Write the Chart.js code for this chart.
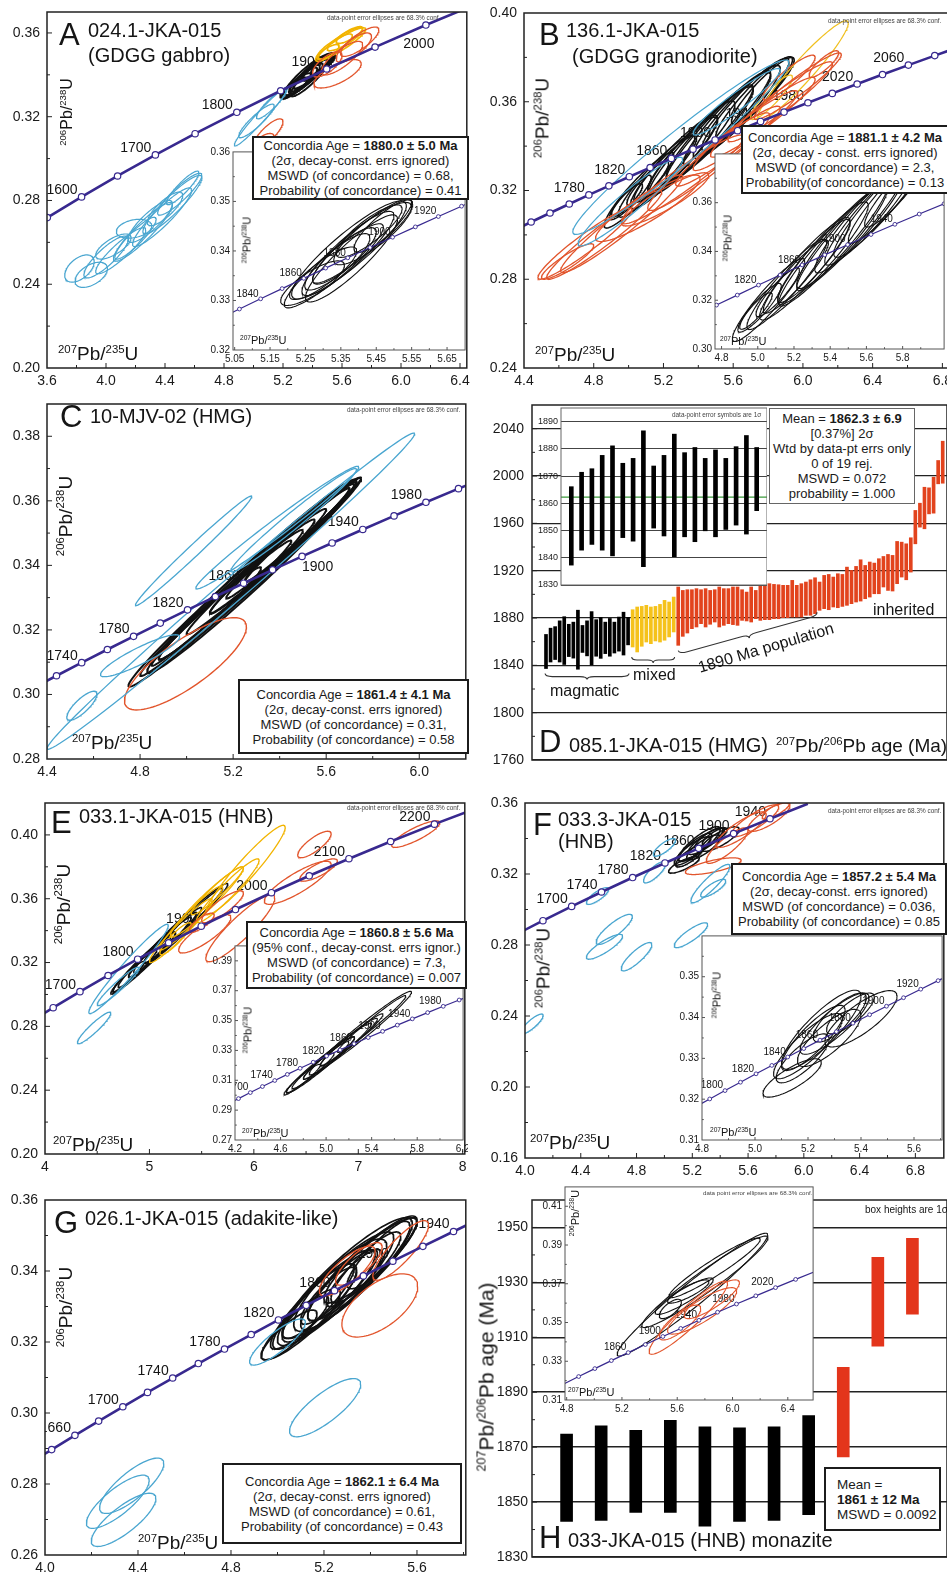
<!DOCTYPE html>
<html><head><meta charset="utf-8">
<script src="https://cdn.jsdelivr.net/npm/chart.js@4.4.1/dist/chart.umd.min.js"></script>
<style>
html,body{margin:0;padding:0;background:#fff}
body{position:relative;width:947px;height:1573px;overflow:hidden;font-family:"Liberation Sans",Arial,Helvetica,sans-serif;color:#151515}
canvas{position:absolute}
.t{position:absolute;white-space:nowrap;line-height:1;z-index:6;color:#151515}
.sp{font-size:.6em;vertical-align:.62em;line-height:0}
.bx{position:absolute;z-index:6;background:#fff;border:2px solid #1c1c1c;box-sizing:border-box;display:flex;flex-direction:column;justify-content:center;align-items:center;white-space:nowrap;font-size:13px;line-height:15px;color:#1a1a1a}
</style></head><body>
<script>
Chart.defaults.font.family='"Liberation Sans", Arial, Helvetica, sans-serif';
Chart.defaults.color='#1a1a1a';

// ================= DATA =================
// ellipses: [x, halfwidth x, y, halfheight y, rho]
// ---- Panel A
const aXTicks=[3.6,4.0,4.4,4.8,5.2,5.6,6.0,6.4];
const aYTicks=[0.20,0.24,0.28,0.32,0.36];
const aMarks=[1550,1600,1650,1700,1750,1800,1850,1900,1950,2000];
const aLabels=[1600,1700,1800,1900,2000];
const aBlue=[[3.82,0.10,0.2475,0.0065,0.5],[3.90,0.11,0.2445,0.0060,0.5],[4.00,0.15,0.2530,0.0100,0.85],[4.10,0.17,0.2560,0.0110,0.9],[4.20,0.14,0.2620,0.0100,0.9],[4.25,0.20,0.2650,0.0140,0.92],[4.30,0.15,0.2700,0.0100,0.85],[4.38,0.20,0.2720,0.0140,0.92],[4.45,0.20,0.2780,0.0140,0.92],[4.40,0.12,0.2760,0.0080,0.8],[4.50,0.15,0.2830,0.0100,0.9],[4.19,0.12,0.2665,0.0045,0.3],[4.05,0.12,0.2580,0.0060,0.7],[4.52,0.11,0.2860,0.0080,0.9],[5.05,0.18,0.3200,0.0140,0.97],[5.02,0.12,0.3180,0.0080,0.9],[5.12,0.10,0.3260,0.0070,0.9]];
const aRed=[[5.10,0.10,0.3120,0.0070,0.8],[5.07,0.07,0.3080,0.0040,0.6],[5.72,0.13,0.3558,0.0070,0.8],[5.57,0.16,0.3405,0.0068,0.7],[5.60,0.14,0.3480,0.0080,0.8],[5.50,0.10,0.3450,0.0060,0.7],[5.68,0.12,0.3530,0.0070,0.75]];
const aYellow=[[5.60,0.16,0.3550,0.0075,0.9],[5.55,0.12,0.3535,0.0060,0.85],[5.62,0.12,0.3570,0.0055,0.85],[5.50,0.08,0.3505,0.0040,0.8],[5.65,0.09,0.3590,0.0040,0.8]];
const aBlack=[[5.373,0.162,0.3402,0.0099,0.9],[5.37,0.13,0.3395,0.0085,0.9],[5.38,0.13,0.3385,0.0088,0.9],[5.36,0.09,0.3390,0.0057,0.85],[5.44,0.11,0.3435,0.0063,0.85],[5.27,0.09,0.3335,0.0045,0.8],[5.30,0.095,0.3355,0.0053,0.85],[5.43,0.093,0.3440,0.0053,0.85],[5.34,0.092,0.3378,0.0057,0.85],[5.47,0.083,0.3450,0.0053,0.85],[5.33,0.14,0.3370,0.0085,0.92],[5.41,0.14,0.3420,0.0085,0.92]];
const aInXTicks=[5.05,5.15,5.25,5.35,5.45,5.55,5.65];
const aInYTicks=[0.32,0.33,0.34,0.35,0.36];
const aInMarks=[1820,1830,1840,1850,1860,1870,1880,1890,1900,1910,1920,1930,1940];
const aInLabels=[1840,1860,1880,1900,1920];
// ---- Panel B
const bXTicks=[4.4,4.8,5.2,5.6,6.0,6.4,6.8];
const bYTicks=[0.24,0.28,0.32,0.36,0.40];
const bMarks=[1720,1740,1760,1780,1800,1820,1840,1860,1880,1900,1920,1940,1960,1980,2000,2020,2040,2060,2080];
const bLabels=[1780,1820,1860,1900,1940,1980,2020,2060];
const bBlue=[[5.30,0.62,0.3395,0.0393,0.97],[5.01,0.30,0.3150,0.0200,0.95],[5.62,0.25,0.3600,0.0150,0.95]];
const bRed=[[4.75,0.27,0.296,0.016,0.95],[4.86,0.33,0.300,0.020,0.96],[4.96,0.35,0.305,0.022,0.96],[4.65,0.15,0.288,0.008,0.9],[5.11,0.30,0.312,0.015,0.9],[5.21,0.25,0.316,0.012,0.9],[5.31,0.35,0.325,0.020,0.95],[5.46,0.35,0.333,0.022,0.95],[5.57,0.30,0.340,0.018,0.95],[5.67,0.30,0.347,0.018,0.95],[5.77,0.30,0.353,0.018,0.95],[5.87,0.30,0.360,0.018,0.95],[5.97,0.25,0.367,0.015,0.95],[5.92,0.15,0.371,0.010,0.9],[6.12,0.085,0.377,0.006,0.85]];
const bYellow=[[6.00,0.26,0.374,0.0225,0.95],[5.82,0.12,0.362,0.010,0.9]];
const bBlack=[[4.99,0.09,0.3156,0.0075,0.88],[5.01,0.12,0.3169,0.0100,0.9],[5.06,0.20,0.3201,0.0170,0.93],[5.11,0.12,0.3233,0.0100,0.9],[5.16,0.22,0.3265,0.0185,0.93],[5.21,0.18,0.3297,0.0150,0.92],[5.26,0.25,0.3329,0.0210,0.93],[5.31,0.20,0.3361,0.0170,0.92],[5.36,0.25,0.3393,0.0210,0.93],[5.415,0.30,0.3426,0.0250,0.95],[5.465,0.25,0.3458,0.0210,0.93],[5.515,0.30,0.3490,0.0250,0.95],[5.565,0.25,0.3522,0.0210,0.93],[5.62,0.25,0.3554,0.0210,0.93],[5.67,0.25,0.3586,0.0210,0.93],[5.72,0.22,0.3618,0.0185,0.93],[5.77,0.18,0.3650,0.0150,0.92]];
const bInXTicks=[4.8,5.0,5.2,5.4,5.6,5.8];
const bInYTicks=[0.30,0.32,0.34,0.36];
const bInMarks=[1760,1780,1800,1820,1840,1860,1880,1900,1920,1940,1960,1980,2000];
const bInLabels=[1820,1860,1900,1940];
// ---- Panel C
const cXTicks=[4.4,4.8,5.2,5.6,6.0];
const cYTicks=[0.28,0.30,0.32,0.34,0.36,0.38];
const cMarks=[1720,1740,1760,1780,1800,1820,1840,1860,1880,1900,1920,1940,1960,1980,2000];
const cLabels=[1740,1780,1820,1860,1900,1940,1980];
const cBlue=[[5.19,0.79,0.332,0.049,0.995],[4.55,0.065,0.2965,0.0045,0.8],[5.03,0.25,0.3445,0.017,0.99],[4.80,0.17,0.312,0.0065,0.9],[5.39,0.35,0.3517,0.019,0.985],[5.46,0.27,0.354,0.016,0.98]];
const cBlack=[[5.25,0.50,0.3348,0.0324,0.99],[5.20,0.40,0.3316,0.0259,0.99],[5.30,0.42,0.3380,0.0272,0.99],[5.35,0.35,0.3413,0.0227,0.99],[5.40,0.30,0.3445,0.0194,0.99],[5.45,0.28,0.3478,0.0181,0.99],[5.15,0.30,0.3283,0.0194,0.99],[5.30,0.20,0.3380,0.0130,0.98],[5.10,0.22,0.3251,0.0143,0.98],[5.50,0.25,0.3510,0.0162,0.99],[5.40,0.15,0.3445,0.0097,0.97],[5.28,0.45,0.3366,0.0300,0.985]];
const cRed=[[4.995,0.262,0.3095,0.0143,0.8]];
// ---- Panel D  (207Pb/206Pb ages, [low, high])
const dYTicks=[1760,1800,1840,1880,1920,1960,2000,2040];
const dInYTicks=[1830,1840,1850,1860,1870,1880,1890];
const dMean=1862.3;
const dBlack=[[1837.3,1866.1],[1842.8,1871.4],[1844.9,1872.7],[1842.8,1877.6],[1840.7,1881.1],[1847.4,1874.7],[1846.1,1876.5],[1836.7,1886.6],[1850.9,1873.7],[1848.0,1877.6],[1840.4,1885.4],[1847.7,1878.6],[1845.9,1880.5],[1849.9,1876.5],[1847.7,1879.6],[1850.4,1876.5],[1852.0,1880.8],[1848.7,1884.9],[1857.3,1880.5]];
const dYellow=[[1855.5,1887.0],[1851.3,1889.3],[1856.1,1889.8],[1859.7,1890.7],[1858.3,1889.3],[1860.6,1889.8],[1859.7,1891.5],[1861.2,1894.9],[1864.0,1893.5],[1868.2,1897.7]];
const dRed=[[1856.9,1906.2],[1864.5,1903.3],[1867.3,1903.9],[1871.0,1903.9],[1872.4,1904.8],[1875.2,1903.9],[1872.4,1904.8],[1874.7,1903.3],[1876.6,1903.9],[1872.4,1906.2],[1873.8,1904.8],[1875.2,1904.8],[1874.4,1906.2],
[1873.8,1906.2],[1878.0,1903.9],[1877.5,1901.9],[1876.6,1906.2],[1879.4,1903.3],[1878.0,1907.6],[1878.6,1908.4],[1878.6,1909.0],[1879.4,1908.4],[1879.4,1908.1],
[1880.3,1907.6],[1880.3,1907.6],[1880.8,1911.8],[1880.8,1907.6],[1880.8,1909.0],[1882.3,1910.4],[1882.3,1912.3],[1883.7,1914.0],[1886.5,1910.4],[1887.9,1916.0],
[1887.0,1916.8],[1889.3,1914.6],[1888.7,1917.4],[1889.8,1916.8],[1890.7,1923.0],[1892.1,1920.2],[1893.5,1923.6],[1894.3,1929.2],[1896.3,1924.4],[1897.7,1927.3],
[1900.5,1926.4],[1900.5,1930.1],[1906.2,1932.0],[1903.3,1933.7],[1902.8,1932.9],[1909.0,1944.7],[1914.6,1944.1],[1912.3,1942.7],[1918.8,1947.8],[1942.7,1970.9],
[1956.8,1977.0],[1955.4,1990.5],[1968.0,1990.0],[1968.6,1999.0],[1993.4,2013.1],[1993.9,2029.4]];
// ---- Panel E
const eXTicks=[4,5,6,7,8];
const eYTicks=[0.20,0.24,0.28,0.32,0.36,0.40];
const eMarks=[1650,1700,1750,1800,1850,1900,1950,2000,2050,2100,2150,2200];
const eLabels=[1700,1800,1900,2000,2100,2200];
const eBlue=[[4.80,0.38,0.316,0.028,0.97],[4.47,0.16,0.279,0.0099,0.93],[4.70,0.20,0.305,0.012,0.95]];
const eYellow=[[5.92,0.38,0.378,0.028,0.95],[5.55,0.35,0.358,0.022,0.96],[5.40,0.30,0.348,0.020,0.96],[5.30,0.30,0.340,0.020,0.96],[5.65,0.25,0.365,0.015,0.95],[5.25,0.15,0.335,0.010,0.9],[5.75,0.30,0.365,0.020,0.95]];
const eRed=[[5.87,0.33,0.3415,0.021,0.9],[5.53,0.25,0.338,0.012,0.85],[6.42,0.32,0.370,0.0135,0.85],[6.58,0.16,0.394,0.0083,0.8],[6.62,0.18,0.378,0.007,0.8],[7.55,0.23,0.4005,0.0083,0.85],[5.70,0.20,0.355,0.010,0.85],[5.50,0.12,0.345,0.006,0.8]];
const eBlack=[[4.80,0.15,0.3112,0.0095,0.95],[4.85,0.22,0.3142,0.0140,0.97],[4.95,0.30,0.3203,0.0190,0.97],[5.00,0.20,0.3234,0.0125,0.96],[5.05,0.35,0.3264,0.0220,0.98],[5.10,0.15,0.3294,0.0095,0.95],[5.15,0.35,0.3325,0.0220,0.98],[5.20,0.25,0.3355,0.0160,0.97],[5.30,0.45,0.3416,0.0280,0.98],[5.40,0.30,0.3477,0.0190,0.98]];
const eInXTicks=[4.2,4.6,5.0,5.4,5.8,6.2];
const eInYTicks=[0.27,0.29,0.31,0.33,0.35,0.37,0.39];
const eInMarks=[1660,1680,1700,1720,1740,1760,1780,1800,1820,1840,1860,1880,1900,1920,1940,1960,1980,2000];
const eInLabels=[1700,1740,1780,1820,1860,1900,1940,1980];
// ---- Panel F
const fXTicks=[4.0,4.4,4.8,5.2,5.6,6.0,6.4,6.8];
const fYTicks=[0.16,0.20,0.24,0.28,0.32,0.36];
const fMarks=[1660,1700,1740,1780,1820,1860,1900,1940];
const fLabels=[1700,1740,1780,1820,1860,1900,1940];
const fBlue=[[4.05,0.08,0.2355,0.0056,0.85],[4.57,0.13,0.279,0.007,0.85],[4.64,0.13,0.2888,0.0085,0.85],[4.80,0.11,0.2734,0.008,0.85],[5.19,0.12,0.2855,0.007,0.85],[5.33,0.14,0.3146,0.0108,0.9],[5.35,0.09,0.312,0.005,0.8],[4.93,0.08,0.321,0.006,0.8],[4.52,0.08,0.3076,0.0047,0.8],[5.00,0.08,0.335,0.005,0.8]];
const fRed=[[5.55,0.18,0.345,0.010,0.85],[5.65,0.17,0.350,0.009,0.85],[5.75,0.15,0.352,0.008,0.8],[5.45,0.15,0.336,0.010,0.85],[5.35,0.20,0.3244,0.0047,0.7],[5.80,0.10,0.356,0.005,0.8]];
const fBlack=[[5.14,0.11,0.3252,0.0047,0.8],[5.40,0.136,0.3397,0.0069,0.8],[5.25,0.15,0.3370,0.0097,0.85],[5.20,0.13,0.3330,0.0080,0.85],[5.30,0.13,0.3385,0.0075,0.85],[5.18,0.10,0.3300,0.0060,0.8],[5.28,0.12,0.3350,0.0070,0.8],[5.32,0.10,0.3400,0.0060,0.8],[5.22,0.12,0.3350,0.0080,0.85],[5.36,0.09,0.3410,0.0050,0.8]];
const fInXTicks=[4.8,5.0,5.2,5.4,5.6];
const fInYTicks=[0.31,0.32,0.33,0.34,0.35];
const fInMarks=[1780,1790,1800,1810,1820,1830,1840,1850,1860,1870,1880,1890,1900,1910,1920,1930,1940];
const fInLabels=[1800,1820,1840,1860,1880,1900,1920];
// ---- Panel G
const gXTicks=[4.0,4.4,4.8,5.2,5.6];
const gYTicks=[0.26,0.28,0.30,0.32,0.34,0.36];
const gMarks=[1640,1660,1680,1700,1720,1740,1760,1780,1800,1820,1840,1860,1880,1900,1920,1940,1960];
const gLabels=[1660,1700,1740,1780,1820,1860,1900,1940];
const gBlack=[[5.25,0.25,0.335,0.016,0.9],[5.30,0.28,0.338,0.017,0.9],[5.20,0.22,0.332,0.014,0.9],[5.35,0.22,0.340,0.014,0.9],[5.40,0.20,0.343,0.012,0.9],[5.15,0.18,0.330,0.012,0.9],[5.10,0.17,0.325,0.010,0.88],[5.05,0.12,0.322,0.007,0.85],[5.28,0.15,0.336,0.010,0.88],[5.33,0.12,0.338,0.008,0.85],[5.22,0.12,0.333,0.008,0.85],[5.38,0.15,0.341,0.010,0.88],[5.45,0.15,0.345,0.010,0.88],[5.35,0.25,0.3395,0.016,0.92],[5.12,0.10,0.327,0.006,0.8],[5.27,0.20,0.3360,0.0130,0.85],[5.18,0.16,0.3310,0.0110,0.85]];
const gRed=[[5.44,0.163,0.3303,0.0089,0.6],[5.53,0.12,0.3458,0.0084,0.85],[5.30,0.12,0.340,0.007,0.8],[5.35,0.10,0.342,0.006,0.8]];
const gBlue=[[5.00,0.12,0.3200,0.0065,0.85],[5.205,0.153,0.3015,0.0082,0.8],[4.373,0.138,0.2795,0.0078,0.8],[4.313,0.135,0.2750,0.0075,0.8],[4.338,0.139,0.2699,0.0075,0.8]];
// ---- Panel H
const hYTicks=[1830,1850,1870,1890,1910,1930,1950];
const hBlack=[[1843.0,1874.8],[1843.3,1877.8],[1846.2,1876.1],[1846.2,1879.8],[1841.2,1877.4],[1843.0,1877.0],[1843.3,1877.4],[1845.4,1881.5]];
const hRed=[[1866.4,1899.1],[1906.8,1939.1],[1918.4,1946.0]];
const hInXTicks=[4.8,5.2,5.6,6.0,6.4];
const hInYTicks=[0.31,0.33,0.35,0.37,0.39,0.41];
const hInMarks=[1800,1820,1840,1860,1880,1900,1920,1940,1960,1980,2000,2020,2040,2060,2080,2100];
const hInLabels=[1860,1900,1940,1980,2020];
const hInBlack=[[5.71,0.545,0.3644,0.0317,0.97],[5.80,0.456,0.371,0.0236,0.96],[5.87,0.33,0.3782,0.0154,0.95],[5.65,0.21,0.3636,0.0094,0.9],[5.68,0.15,0.366,0.006,0.85],[5.55,0.08,0.357,0.005,0.7]];
const hInRed=[[5.68,0.284,0.3525,0.0189,0.93],[5.78,0.25,0.356,0.012,0.85],[5.62,0.15,0.350,0.009,0.8],[5.85,0.20,0.362,0.010,0.85]];

// ================= HELPERS =================
const PURPLE='#38298f', BLUE='#4aa6d0', RED='#e2552c', YEL='#f2b400', BLK='#111';
const L238=1.55125e-4, L235=9.8485e-4; // decay constants per Ma
const conc=t=>({x:Math.expm1(L235*t),y:Math.expm1(L238*t)});
function ellPts(e){const [cx,sx,cy,sy,r]=e;const q=Math.sqrt(1-r*r);const pts=[];const n=100;for(let i=0;i<=n;i++){const a=2*Math.PI*i/n;pts.push({x:cx+sx*Math.cos(a),y:cy+sy*(r*Math.cos(a)+q*Math.sin(a))});}return pts;}
function extend(m){const s0=m[1]-m[0],s1=m[m.length-1]-m[m.length-2];return [m[0]-s0,...m,m[m.length-1]+s1];}
function place(box,g,z){
  const L=Math.round(box[0]),T=Math.round(box[1]),R=Math.round(box[2]),B=Math.round(box[3]);
  const cv=document.createElement('canvas');
  cv.width=R-L+g[0]+g[2]; cv.height=B-T+g[1]+g[3];
  cv.style.left=(L-g[0])+'px'; cv.style.top=(T-g[1])+'px'; cv.style.zIndex=z;
  document.body.appendChild(cv); return cv;
}
function lin(min,max,ticks,size,dec,font,pad,show){
  return {type:'linear',min,max,offset:false,
    afterBuildTicks:s=>{s.ticks=ticks.map(v=>({value:v}));},
    afterFit:s=>{if(s.isHorizontal())s.height=size;else s.width=size;s.paddingLeft=s.paddingRight=s.paddingTop=s.paddingBottom=0;},
    grid:{display:false,drawTicks:false},border:{display:false},
    ticks:{display:show!==false,autoSkip:false,maxRotation:0,minRotation:0,padding:pad,font:{size:font},color:'#1a1a1a',
      callback:v=>Number(v).toFixed(dec)}};
}
const bgPl={id:'bg',beforeDraw(ch,a,o){if(!o.on)return;const A=ch.chartArea,c=ch.ctx;c.save();c.fillStyle='#fff';c.fillRect(A.left,A.top,A.right-A.left,A.bottom-A.top);c.restore();}};
const framePl={id:'frame',afterDatasetsDraw(ch,a,o){
  const c=ch.ctx,A=ch.chartArea,x=ch.scales.x,y=ch.scales.y;
  c.save();c.strokeStyle=o.color||'#222';
  if(o.tl){
    const mk=vals=>{const out=[];for(let i=0;i<vals.length;i++){out.push([vals[i],1]);if(i<vals.length-1)out.push([(vals[i]+vals[i+1])/2,0.6]);}
      if(vals.length>1){const h=(vals[1]-vals[0])/2;out.push([vals[0]-h,0.6],[vals[vals.length-1]+h,0.6]);}return out;};
    c.beginPath();
    if(o.tx!==false)mk(x.ticks.map(t=>t.value)).forEach(([v,f])=>{const p=x.getPixelForValue(v);if(p<=A.left+1||p>=A.right-1)return;c.moveTo(p,A.bottom);c.lineTo(p,A.bottom-o.tl*f);});
    if(o.ty!==false)mk(y.ticks.map(t=>t.value)).forEach(([v,f])=>{const p=y.getPixelForValue(v);if(p<=A.top+1||p>=A.bottom-1)return;c.moveTo(A.left,p);c.lineTo(A.left+o.tl*f,p);});
    c.lineWidth=1;c.stroke();
  }
  c.lineWidth=o.lw||1.5;c.strokeRect(A.left,A.top,A.right-A.left,A.bottom-A.top);c.restore();}};
const agePl={id:'ages',beforeDatasetsDraw(ch,a,o){
  if(!o.list)return;const c=ch.ctx,A=ch.chartArea;c.save();
  c.beginPath();c.rect(A.left,A.top,A.right-A.left,A.bottom-A.top);c.clip();
  c.font=o.size+'px "Liberation Sans", Arial, sans-serif';c.fillStyle='#141414';c.textBaseline='middle';
  o.list.forEach(t=>{const p=conc(t);const px=ch.scales.x.getPixelForValue(p.x),py=ch.scales.y.getPixelForValue(p.y);
    const pos=(o.pos&&o.pos[t])||'ul';
    if(pos==='ul'){c.textAlign='right';c.fillText(String(t),px-o.dx,py-o.dy);}
    else if(pos==='br'){c.textAlign='left';c.fillText(String(t),px,py+11);}
    else if(pos==='b'){c.textAlign='center';c.fillText(String(t),px-7,py+19);}
  });c.restore();}};

function concordia(S){
  const cv=place(S.box,S.g,S.z);const ds=[];
  S.sets.forEach(([arr,col,w])=>arr.forEach(e=>ds.push({data:ellPts(e),showLine:true,borderColor:col,borderWidth:w,pointRadius:0,fill:false,tension:0,order:3})));
  ds.push({data:extend(S.marks).map(conc),showLine:true,borderColor:PURPLE,borderWidth:S.lw,pointRadius:0,order:1});
  ds.push({data:S.marks.map(conc),showLine:false,pointRadius:S.mr,pointBackgroundColor:'#fff',pointBorderColor:PURPLE,pointBorderWidth:S.mw,order:0});
  new Chart(cv,{type:'scatter',data:{datasets:ds},options:{responsive:false,animation:false,events:[],
    layout:{padding:{left:0,bottom:0,top:S.g[1],right:S.g[2]}},
    plugins:{legend:{display:false},tooltip:{enabled:false},frame:{lw:S.fw,color:S.fc,tl:S.tl},ages:{list:S.labels,size:S.lf,dx:S.ldx,dy:S.ldy,pos:S.lpos},bg:{on:S.inset}},
    scales:{x:lin(S.x[0],S.x[1],S.xt,S.g[3],S.xd,S.tf,S.tp),y:lin(S.y[0],S.y[1],S.yt,S.g[0],S.yd,S.tf,S.tpy)}},
    plugins:[bgPl,agePl,framePl]});
}
function bars(S){
  const cv=place(S.box,S.g,S.z);
  const ds=S.sets.map(([arr,start,col,w])=>({data:arr.map((v,i)=>({x:start+i,y:v})),backgroundColor:col,barThickness:w,grouped:false,borderWidth:0,borderSkipped:false}));
  const ya=lin(S.y[0],S.y[1],S.yt,S.g[0],0,S.tf,S.tpy);ya.grid={display:true,drawTicks:false,color:S.gc,lineWidth:S.glw};
  new Chart(cv,{type:'bar',data:{datasets:ds},options:{responsive:false,animation:false,events:[],
    layout:{padding:{left:0,bottom:0,top:S.g[1],right:S.g[2]}},
    plugins:{legend:{display:false},tooltip:{enabled:false},frame:{lw:S.fw,color:S.fc,tl:S.tl,tx:false},bg:{on:S.inset}},
    scales:{x:lin(S.x[0],S.x[1],[S.x[0]],S.g[3],0,8,0,false),y:ya}},
    plugins:[bgPl,framePl,...(S.pl||[])]});
}
function brace(c,x1,y1,x2,y2,h){
  const dx=x2-x1,dy=y2-y1,L=Math.hypot(dx,dy),ux=dx/L,uy=dy/L,nx=-uy,ny=ux;
  const P=(t,n)=>[x1+ux*t+nx*n,y1+uy*t+ny*n];const q=Math.min(h*1.2,L/8),m=L/2;
  c.beginPath();let p=P(0,0);c.moveTo(p[0],p[1]);
  const Q=(a,b,d,e)=>{const u=P(a,b),v=P(d,e);c.quadraticCurveTo(u[0],u[1],v[0],v[1]);};
  Q(0,h/2,q,h/2);p=P(m-q,h/2);c.lineTo(p[0],p[1]);Q(m,h/2,m,h);Q(m,h/2,m+q,h/2);p=P(L-q,h/2);c.lineTo(p[0],p[1]);Q(L,h/2,L,0);c.stroke();
}
const dMainPl={id:'dmain',afterDatasetsDraw(ch){const c=ch.ctx,x=ch.scales.x,y=ch.scales.y;c.save();c.strokeStyle='#333';c.lineWidth=1.1;
  brace(c,x.getPixelForValue(0.8),y.getPixelForValue(1833),x.getPixelForValue(19.2),y.getPixelForValue(1833),6);
  brace(c,x.getPixelForValue(19.8),y.getPixelForValue(1847),x.getPixelForValue(29.2),y.getPixelForValue(1847),6);
  brace(c,x.getPixelForValue(30),y.getPixelForValue(1852.5),x.getPixelForValue(60.4),y.getPixelForValue(1885),7);
  c.restore();}};
const dInPl={id:'din',beforeDatasetsDraw(ch){const A=ch.chartArea,c=ch.ctx,y=ch.scales.y.getPixelForValue(dMean);c.save();c.strokeStyle='#3a9a3a';c.lineWidth=1.2;c.beginPath();c.moveTo(A.left,y);c.lineTo(A.right,y);c.stroke();c.restore();}};

// ================= CHARTS =================
const MAIN={g:[46,8,2,22],z:1,lw:2.6,mr:3.2,mw:1.2,fw:1.5,fc:'#222',tl:5,lf:14,ldx:4,ldy:7,tf:14,tp:5,tpy:7,inset:false};
const INS={g:[28,4,0,15],z:2,lw:1.2,mr:1.9,mw:0.9,fw:1,fc:'#555',tl:3,lf:10,ldx:2,ldy:5,tf:10,tp:3,tpy:3,inset:true};
concordia(Object.assign({},MAIN,{box:[46.7,12.4,470,367.7],x:[3.6,6.446],y:[0.20,0.37],xt:aXTicks,yt:aYTicks,xd:1,yd:2,marks:aMarks,labels:aLabels,lpos:{2000:'b'},
  sets:[[aBlue,BLUE,1.2],[aRed,RED,1.3],[aYellow,YEL,1.6],[aBlack,BLK,1.9]]}));
concordia(Object.assign({},INS,{box:[233.3,150.7,470,350],x:[5.0453,5.701],y:[0.32,0.36],xt:aInXTicks,yt:aInYTicks,xd:2,yd:2,marks:aInMarks,labels:aInLabels,sets:[[aBlack,BLK,1.1]]}));
concordia(Object.assign({},MAIN,{box:[524.4,12.7,955,368.3],x:[4.4,6.854],y:[0.24,0.40],xt:bXTicks,yt:bYTicks,xd:1,yd:2,marks:bMarks,labels:bLabels,
  sets:[[bBlue,BLUE,1.2],[bRed,RED,1.3],[bYellow,'#f0c020',1.2],[bBlack,BLK,1.5]]}));
concordia(Object.assign({},INS,{box:[715,152.7,949,349],x:[4.7638,6.029],y:[0.30,0.38],xt:bInXTicks,yt:bInYTicks,xd:1,yd:2,marks:bInMarks,labels:bInLabels,sets:[[bBlack,BLK,1.1]]}));
concordia(Object.assign({},MAIN,{box:[46.7,404,469.3,759.3],x:[4.4,6.2],y:[0.28,0.39],xt:cXTicks,yt:cYTicks,xd:1,yd:2,marks:cMarks,labels:cLabels,lpos:{1900:'br'},
  sets:[[cBlue,BLUE,1.3],[cRed,RED,1.4],[cBlack,BLK,2]]}));
bars({box:[531.7,405,946.7,760],g:[50,8,2,6],z:1,x:[-2.07,88.94],y:[1760,2060],yt:dYTicks,tf:14,tpy:8,fw:1.5,fc:'#222',tl:5,gc:'#222',glw:1.2,inset:false,
  sets:[[dBlack,1,'#000',3],[dYellow,20,'#f5c21b',3],[dRed,30,'#e2431d',3]],pl:[dMainPl]});
bars({box:[560.7,408.3,766.7,584.9],g:[28,3,0,2],z:2,x:[0,20],y:[1830,1895],yt:dInYTicks,tf:9,tpy:3,fw:1,fc:'#666',tl:0,gc:'#444',glw:1,inset:true,
  sets:[[dBlack,1,'#000',4]],pl:[dInPl]});
concordia(Object.assign({},MAIN,{g:[45,8,2,22],box:[45,802.7,468.3,1154],x:[4,8.02],y:[0.20,0.42],xt:eXTicks,yt:eYTicks,xd:0,yd:2,marks:eMarks,labels:eLabels,
  sets:[[eBlue,BLUE,1.3],[eRed,RED,1.3],[eYellow,YEL,1.3],[eBlack,BLK,1.5]]}));
concordia(Object.assign({},INS,{g:[28,4,0,14],box:[235,945,468.3,1140],x:[4.2,6.203],y:[0.27,0.40],xt:eInXTicks,yt:eInYTicks,xd:1,yd:2,marks:eInMarks,labels:eInLabels,sets:[[eBlack,BLK,1.1]]}));
concordia(Object.assign({},MAIN,{box:[524.6,802.7,947,1157.7],x:[4.0,7.004],y:[0.16,0.36],xt:fXTicks,yt:fYTicks,xd:1,yd:2,marks:fMarks,labels:fLabels,
  sets:[[fBlue,BLUE,1.3],[fRed,RED,1.3],[fBlack,BLK,1.5]]}));
concordia(Object.assign({},INS,{box:[702.3,935,947,1140],x:[4.8,5.706],y:[0.31,0.36],xt:fInXTicks,yt:fInYTicks,xd:1,yd:2,marks:fInMarks,labels:fInLabels,sets:[[fBlack,BLK,1.1]]}));
concordia(Object.assign({},MAIN,{g:[45,8,2,18],box:[45,1199.5,469.3,1555],x:[4.0,5.81],y:[0.26,0.36],xt:gXTicks,yt:gYTicks,xd:1,yd:2,marks:gMarks,labels:gLabels,
  sets:[[gBlue,BLUE,1.3],[gRed,RED,1.3],[gBlack,BLK,1.7]]}));
bars({box:[531.7,1200.3,946.7,1556.7],g:[50,8,2,10],z:1,x:[0,12],y:[1830,1960],yt:hYTicks,tf:14,tpy:4,fw:1.5,fc:'#222',tl:5,gc:'#222',glw:1.5,inset:false,
  sets:[[hBlack,1,'#000',12],[hRed,9,'#e3351b',12]]});
concordia(Object.assign({},INS,{g:[26,4,0,15],box:[565,1186,817.7,1399.5],x:[4.788,6.583],y:[0.31,0.42],xt:hInXTicks,yt:hInYTicks,xd:1,yd:2,marks:hInMarks,labels:hInLabels,
  sets:[[hInRed,RED,1.1],[hInBlack,BLK,1.1]]}));

// ================= TEXT =================
function T(html,x,base,size,align,extra){const d=document.createElement('div');d.className='t';d.innerHTML=html;d.style.fontSize=size+'px';d.style.left=x+'px';d.style.top=(base-0.847*size)+'px';
  if(align==='c')d.style.transform='translateX(-50%)';if(align==='r')d.style.transform='translateX(-100%)';if(extra)d.style.cssText+=extra;document.body.appendChild(d);return d;}
function R(html,cx,cy,size,deg){const d=document.createElement('div');d.className='t';d.innerHTML=html;d.style.fontSize=size+'px';d.style.left=cx+'px';d.style.top=cy+'px';d.style.transform='translate(-50%,-50%) rotate('+deg+'deg)';document.body.appendChild(d);return d;}
function BX(lines,l,t,w,h,extra){const d=document.createElement('div');d.className='bx';d.style.left=l+'px';d.style.top=t+'px';d.style.width=w+'px';d.style.height=h+'px';if(extra)d.style.cssText+=extra;d.innerHTML=lines.map(s=>'<div>'+s+'</div>').join('');document.body.appendChild(d);return d;}
const PB=(a,b,c)=>'<span class="sp">'+a+'</span>Pb/<span class="sp">'+b+'</span>'+c;
const XT=PB('207','235','U'), YT=PB('206','238','U');
const NOTE='data-point error ellipses are 68.3% conf.';

// Panel titles
T('A',59,45,31);T('024.1-JKA-015',88,37,20);T('(GDGG gabbro)',88,62,20);
T('B',539,45,31);T('136.1-JKA-015',566,37,20);T('(GDGG granodiorite)',572,63,20);
T('C',60,427,31);T('10-MJV-02 (HMG)',90,423,20);
T('D',539,752,31);T('085.1-JKA-015 (HMG)',569,752,20);T(PB('207','206','Pb')+' age (Ma)',776,752,19);
T('E',51,833,31);T('033.1-JKA-015 (HNB)',79,823,20);
T('F',533,835,31);T('033.3-JKA-015',558,826,20);T('(HNB)',558,848,20);
T('G',54,1233,31);T('026.1-JKA-015 (adakite-like)',85,1225,20);
T('H',539,1548,31);T('033-JKA-015 (HNB) monazite',568,1547,20);

// axis titles (main)
T(XT,58,360,19);R(YT,67,112,16,-90);
T(XT,535,361,19);R(YT,542,118,19,-90);
T(XT,72,749,19);R(YT,65,516,19,-90);
T(XT,53,1151,19);R(YT,63,904,19,-90);
T(XT,530,1149,19);R(YT,543,968,19,-90);
T(XT,138,1549,19);R(YT,65,1307,19,-90);
R(PB('207','206','Pb')+' age (Ma)',486,1377,21,-90);
// inset axis titles
T(XT,240,344,11);R(YT,247,240,11,-90);
T(XT,720,345,11);R(YT,728,238,11,-90);
T(XT,242,1137,11);R(YT,248,1030,11,-90);
T(XT,710,1136,11);R(YT,717,995,11,-90);
T(XT,568,1396,11);R(YT,575,1213,11,-90);

// small notes
const ns='color:#444;';
T(NOTE,327,20,6.4,'l',ns);T(NOTE,828,23,6.4,'l',ns);T(NOTE,347,412,6.4,'l',ns);
T(NOTE,347,810,6.4,'l',ns);T(NOTE,828,813,6.4,'l',ns);
T('data-point error symbols are 1σ',672,417,6.4,'l',ns);
T('data point error ellipses are 68.3% conf.',703,1195,6.2,'l',ns);
T('box heights are 1σ',865,1213,10);

// D annotations
T('magmatic',550,697,16);T('mixed',633,681,16);T('inherited',873,616,16);
R('1890 Ma population',766,648,16,-16.5);

// result boxes
BX(['Concordia Age = <b>1880.0 ± 5.0 Ma</b>','(2σ, decay-const. errs ignored)','MSWD (of concordance) = 0.68,','Probability (of concordance) = 0.41'],252,136,217,64);
BX(['Concordia Age = <b>1881.1 ± 4.2 Ma</b>','(2σ, decay - const. errs ignored)','MSWD (of concordance) = 2.3,','Probability(of concordance) = 0.13'],741,125,208,69);
BX(['Concordia Age = <b>1861.4 ± 4.1 Ma</b>','(2σ, decay-const. errs ignored)','MSWD (of concordance) = 0.31,','Probability (of concordance) = 0.58'],238,679,231,75);
BX(['Mean = <b>1862.3 ± 6.9</b>','[0.37%] 2σ','Wtd by data-pt errs only','0 of 19 rej.','MSWD = 0.072','probability = 1.000'],769,408,146,96,'border:1px solid #666;');
BX(['Concordia Age = <b>1860.8 ± 5.6 Ma</b>','(95% conf., decay-const. errs ignor.)','MSWD (of concordance) = 7.3,','Probability (of concordance) = 0.007'],246,921,221,68);
BX(['Concordia Age = <b>1857.2 ± 5.4 Ma</b>','(2σ, decay-const. errs ignored)','MSWD (of concordance) = 0.036,','Probability (of concordance) = 0.85'],731,863,216,72);
BX(['Concordia Age = <b>1862.1 ± 6.4 Ma</b>','(2σ, decay-const. errs ignored)','MSWD (of concordance) = 0.61,','Probability (of concordance) = 0.43'],222,1463,240,81);
BX(['Mean =','<b>1861 ± 12 Ma</b>','MSWD = 0.0092'],824,1467,117,64,'align-items:flex-start;padding-left:11px;font-size:13.5px;');
</script>
</body></html>
